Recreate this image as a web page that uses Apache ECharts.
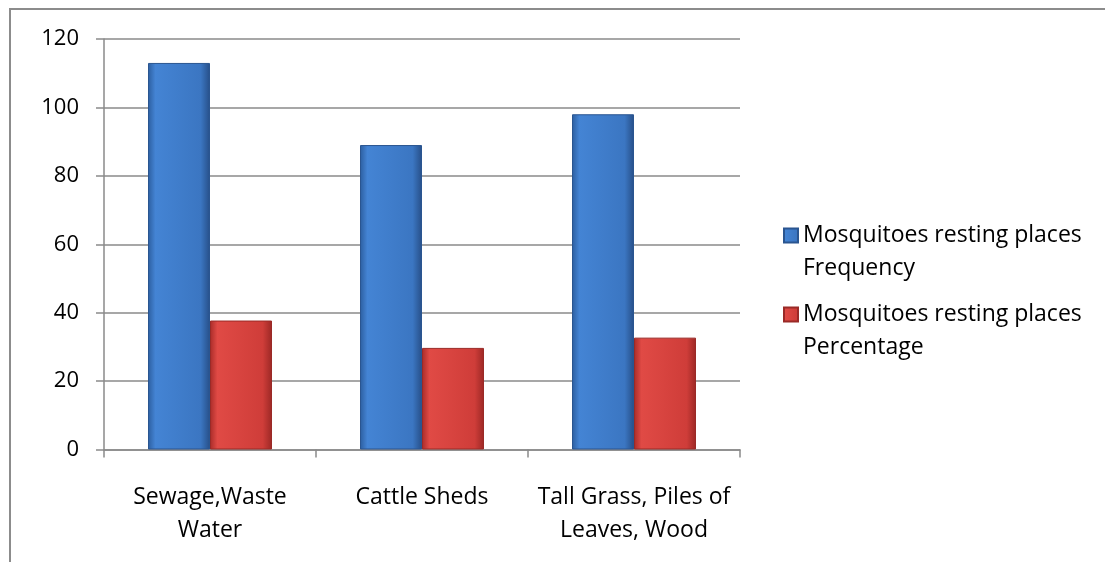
<!DOCTYPE html>
<html>
<head>
<meta charset="utf-8">
<script src="https://cdn.jsdelivr.net/npm/echarts@6/dist/echarts.min.js"></script>
<style>
  html, body { margin: 0; padding: 0; background: #ffffff; }
  #chart { width: 1105px; height: 562px; }
</style>
</head>
<body>
<div id="chart"></div>
<script>
// Resting places where mosquitoes were found
const categories = ['Sewage,Waste\nWater', 'Cattle Sheds', 'Tall Grass, Piles of\nLeaves, Wood'];
const frequencyName = 'Mosquitoes resting places Frequency';
const percentageName = 'Mosquitoes resting places Percentage';
const frequency = [113, 89, 98];
const percentage = [37.7, 29.7, 32.7];
const yTicks = { min: 0, max: 120, interval: 20 };

const FONT = 'Open Sans';

function shade(edge, light, mid, edge2) {
  return {
    type: 'linear', x: 0, y: 0, x2: 1, y2: 0,
    colorStops: [
      { offset: 0, color: edge },
      { offset: 0.12, color: light },
      { offset: 0.85, color: mid },
      { offset: 1, color: edge2 }
    ]
  };
}
const blueFill = shade('#2c5e9f', '#4484d4', '#3b76c2', '#274f88');
const redFill = shade('#a92c29', '#e04a45', '#cf3d39', '#9c2825');

// Legend text: a blank first line keeps the marker beside the first line of text
const legendLabel = name => '\n' + name.replace(' places ', ' places\n');

const legendText = { fontFamily: FONT, fontSize: 23, color: '#000', lineHeight: 33 };

const chart = echarts.init(document.getElementById('chart'));
chart.setOption({
  animation: false,
  backgroundColor: '#ffffff',
  textStyle: { fontFamily: FONT },
  graphic: [{
    type: 'rect',
    shape: { x: 10, y: 9, width: 1200, height: 700 },
    style: { fill: 'none', stroke: '#8c8c8c', lineWidth: 2 },
    silent: true
  }],
  grid: { left: 104, right: 365, top: 39, bottom: 112.5, containLabel: false },
  legend: [
    {
      data: [frequencyName],
      left: 783, top: 186, padding: 0,
      orient: 'vertical',
      itemWidth: 14, itemHeight: 14,
      icon: 'rect',
      formatter: legendLabel,
      textStyle: legendText
    },
    {
      data: [percentageName],
      left: 783, top: 265, padding: 0,
      orient: 'vertical',
      itemWidth: 14, itemHeight: 14,
      icon: 'rect',
      formatter: legendLabel,
      textStyle: legendText
    }
  ],
  xAxis: {
    type: 'category',
    data: categories,
    axisLine: { show: true, lineStyle: { color: '#8a8a8a', width: 1.5 } },
    axisTick: { show: true, length: 8, alignWithLabel: false, lineStyle: { color: '#8a8a8a', width: 1.5 } },
    axisLabel: { margin: 31, color: '#000', fontFamily: FONT, fontSize: 23, lineHeight: 33, interval: 0 },
    splitLine: { show: false }
  },
  yAxis: {
    type: 'value',
    min: yTicks.min, max: yTicks.max, interval: yTicks.interval,
    axisLine: { show: true, lineStyle: { color: '#8a8a8a', width: 1.5 } },
    axisTick: { show: true, length: 8, lineStyle: { color: '#8a8a8a', width: 1.5 } },
    axisLabel: { margin: 25, color: '#000', fontFamily: FONT, fontSize: 22 },
    splitLine: { show: true, lineStyle: { color: '#8a8a8a', width: 1.5 } }
  },
  series: [
    {
      name: frequencyName,
      type: 'bar',
      data: frequency,
      barWidth: 62,
      barGap: '0%',
      itemStyle: { color: blueFill, borderColor: '#2a5590', borderWidth: 1 }
    },
    {
      name: percentageName,
      type: 'bar',
      data: percentage,
      barWidth: 62,
      itemStyle: { color: redFill, borderColor: '#9a2a27', borderWidth: 1 }
    }
  ]
});
</script>
</body>
</html>
